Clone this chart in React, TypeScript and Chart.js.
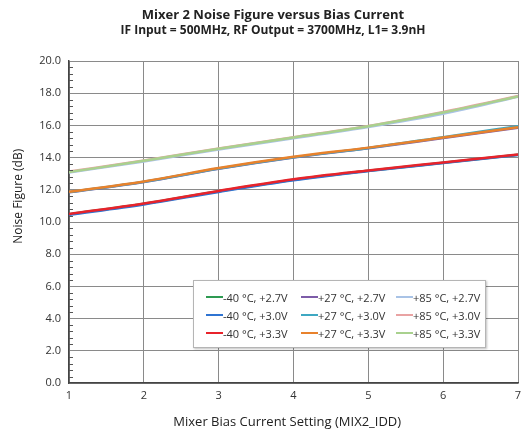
import React, { useEffect, useRef } from "react";
import { Chart, registerables } from "chart.js";

Chart.register(...registerables);

const biasSettings = [1, 2, 3, 4, 5, 6, 7];
const yTicks = [0, 2, 4, 6, 8, 10, 12, 14, 16, 18, 20];

const m40_27 = [10.48, 11.13, 11.91, 12.63, 13.18, 13.68, 14.18];
const p27_27 = [11.84, 12.48, 13.3, 14.0, 14.58, 15.22, 15.86];
const p85_27 = [13.08, 13.76, 14.5, 15.2, 15.9, 16.72, 17.78];
const m40_30 = [10.45, 11.09, 11.87, 12.59, 13.16, 13.66, 14.16];
const p27_30 = [11.86, 12.5, 13.32, 14.02, 14.6, 15.27, 15.95];
const p85_30 = [13.13, 13.82, 14.57, 15.27, 15.97, 16.84, 17.82];
const m40_33 = [10.5, 11.15, 11.93, 12.65, 13.2, 13.7, 14.2];
const p27_33 = [11.88, 12.52, 13.35, 14.05, 14.62, 15.25, 15.88];
const p85_33 = [13.1, 13.8, 14.55, 15.25, 15.95, 16.8, 17.8];

const seriesLabels = [
  "-40 °C, +2.7V", "+27 °C, +2.7V", "+85 °C, +2.7V",
  "-40 °C, +3.0V", "+27 °C, +3.0V", "+85 °C, +3.0V",
  "-40 °C, +3.3V", "+27 °C, +3.3V", "+85 °C, +3.3V",
];
const seriesData = [m40_27, p27_27, p85_27, m40_30, p27_30, p85_30, m40_33, p27_33, p85_33];
const seriesColors = [
  "#2e9a52", "#7d5ca8", "#a9c3e6",
  "#2f74d2", "#3ea8c2", "#e9a3a3",
  "#e8232b", "#e8822c", "#a9d18e",
];

const xTitle = "Mixer Bias Current Setting (MIX2_IDD)";
const yTitle = "Noise Figure (dB)";

const FONT = "'Open Sans', Roboto, sans-serif";

const extras = {
  id: "extras",
  afterDraw(chart: any) {
    const y = chart.scales.y;
    const x = chart.scales.x;
    const area = chart.chartArea;
    const ctx = chart.ctx;
    ctx.save();
    ctx.strokeStyle = "#555";
    ctx.lineWidth = 1;
    for (let v = 0; v <= 20.001; v += 0.4) {
      const r = Math.round(v * 10) / 10;
      if (Math.abs(r / 2 - Math.round(r / 2)) < 1e-6) continue;
      const py = Math.round(y.getPixelForValue(r)) + 0.5;
      ctx.beginPath();
      ctx.moveTo(x.left, py);
      ctx.lineTo(x.left + 4, py);
      ctx.stroke();
    }
    ctx.fillStyle = "#222";
    ctx.textAlign = "center";
    ctx.textBaseline = "middle";
    ctx.font = `13px ${FONT}`;
    ctx.fillText(xTitle, area.left + (area.right - area.left) * 0.486, area.bottom + 39);
    ctx.translate(18.5, area.top + (area.bottom - area.top) * 0.42);
    ctx.rotate(-Math.PI / 2);
    ctx.font = `12px ${FONT}`;
    ctx.fillText(yTitle, 0, 0);
    ctx.restore();
  },
};

export default function App() {
  const canvasRef = useRef<HTMLCanvasElement>(null);

  useEffect(() => {
    if (!canvasRef.current) return;
    const n = seriesLabels.length;
    const chart = new Chart(canvasRef.current, {
      type: "line",
      data: {
        labels: biasSettings,
        datasets: seriesLabels.map((label, i) => ({
          label,
          data: biasSettings.map((b, j) => ({ x: b, y: seriesData[i][j] })),
          borderColor: seriesColors[i],
          backgroundColor: seriesColors[i],
          borderWidth: 2.5,
          pointRadius: 0,
          cubicInterpolationMode: "monotone" as const,
          fill: false,
          order: n - 1 - i,
        })),
      },
      options: {
        animation: false,
        responsive: false,
        devicePixelRatio: 1,
        layout: { padding: { left: 28, right: 4, top: 0, bottom: 0 } },
        plugins: {
          legend: { display: false },
          tooltip: { enabled: false },
          title: {
            display: true,
            text: "Mixer 2 Noise Figure versus Bias Current",
            color: "#222",
            font: { family: FONT, size: 13, weight: "bold", lineHeight: 1.2 },
            padding: { top: 7, bottom: 0 },
          },
          subtitle: {
            display: true,
            text: "IF Input = 500MHz, RF Output = 3700MHz, L1= 3.9nH",
            color: "#222",
            font: { family: FONT, size: 12, weight: "bold", lineHeight: 1.2 },
            padding: { top: 1, bottom: 23 },
          },
        },
        scales: {
          x: {
            type: "linear",
            min: 1,
            max: 7,
            afterBuildTicks: (scale: any) => {
              scale.ticks = biasSettings.map((v) => ({ value: v }));
            },
            afterFit: (scale: any) => {
              scale.height = 51;
              scale.paddingRight = 0;
              scale.paddingLeft = 0;
            },
            ticks: {
              color: "#333",
              font: { family: FONT, size: 11 },
              padding: 6,
              maxRotation: 0,
            },
            grid: { color: "#8a8a8a", lineWidth: 1, drawTicks: false },
            border: { color: "#444", width: 1.5 },
          },
          y: {
            min: 0,
            max: 20,
            afterBuildTicks: (scale: any) => {
              scale.ticks = yTicks.map((v) => ({ value: v }));
            },
            afterFit: (scale: any) => {
              scale.width = 69 - 28;
            },
            ticks: {
              color: "#333",
              font: { family: FONT, size: 11 },
              padding: 8,
              callback: (v: any) => Number(v).toFixed(1),
            },
            grid: { color: "#8a8a8a", lineWidth: 1, drawTicks: false },
            border: { color: "#444", width: 1.5 },
          },
        },
      },
      plugins: [extras],
    });
    return () => chart.destroy();
  }, []);

  return (
    <div
      style={{
        position: "fixed",
        left: 0,
        top: 0,
        width: 522,
        height: 434,
        background: "#fff",
      }}
    >
      <canvas ref={canvasRef} width={522} height={434} style={{ display: "block", width: 522, height: 434 }} />
      <div
        style={{
          position: "absolute",
          left: 193,
          top: 280,
          width: 291,
          height: 66,
          background: "#fff",
          border: "1px solid #b5b5b5",
          boxShadow: "1px 1px 2px rgba(0,0,0,0.25)",
          fontFamily: FONT,
          fontSize: 11,
          color: "#333",
        }}
      >
        {seriesLabels.map((label, i) => {
          const col = i % 3;
          const row = Math.floor(i / 3);
          return (
            <div
              key={label}
              style={{
                position: "absolute",
                left: 12 + col * 95,
                top: 9 + row * 18,
                height: 14,
                display: "flex",
                alignItems: "center",
                whiteSpace: "nowrap",
              }}
            >
              <span
                style={{
                  display: "inline-block",
                  width: 17,
                  height: 2.5,
                  background: seriesColors[i],
                }}
              />
              <span>{label}</span>
            </div>
          );
        })}
      </div>
    </div>
  );
}
